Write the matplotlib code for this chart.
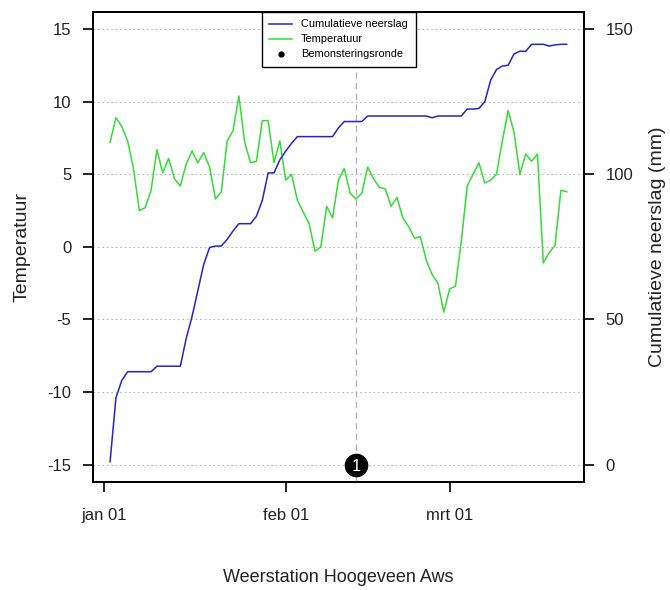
import numpy as np
import pandas as pd
import matplotlib
matplotlib.use("Agg")
import matplotlib.pyplot as plt
from matplotlib.lines import Line2D

plt.rcParams['font.family'] = ['Liberation Sans', 'DejaVu Sans']
plt.rcParams['axes.unicode_minus'] = False

# dagelijkse reeksen, 2 jan t/m 21 mrt
start_date = '2014-01-02'
temperatuur = [7.2, 8.9, 8.3, 7.3, 5.4, 2.5, 2.7, 3.9, 6.7, 5.1,
               6.1, 4.7, 4.2, 5.7, 6.6, 5.8, 6.5, 5.5, 3.3, 3.8,
               7.3, 8.0, 10.4, 7.2, 5.8, 5.9, 8.7, 8.7, 5.8, 7.3,
               4.6, 5.0, 3.2, 2.4, 1.6, -0.3, 0.0, 2.8, 2.0, 4.6,
               5.4, 3.7, 3.3, 3.7, 5.5, 4.7, 4.1, 4.0, 2.8, 3.4,
               2.0, 1.4, 0.6, 0.7, -0.9, -1.9, -2.5, -4.5, -2.9, -2.7,
               0.4, 4.2, 5.0, 5.8, 4.4, 4.6, 5.0, 7.3, 9.4, 7.9,
               5.0, 6.4, 5.9, 6.4, -1.1, -0.4, 0.1, 3.9, 3.8]
neerslag_cum = [1.0, 23.0, 29.0, 32.0, 32.0, 32.0, 32.0, 32.0, 33.9, 33.9,
                33.9, 33.9, 33.9, 43.4, 51.0, 60.0, 69.0, 74.8, 75.3, 75.3,
                77.6, 80.5, 83.0, 83.0, 83.0, 85.6, 91.0, 100.5, 100.5, 105.0,
                108.0, 110.7, 113.0, 113.0, 113.0, 113.0, 113.0, 113.0, 113.0, 116.0,
                118.2, 118.2, 118.2, 118.2, 120.1, 120.1, 120.1, 120.1, 120.1, 120.1,
                120.1, 120.1, 120.1, 120.1, 120.1, 119.5, 120.1, 120.1, 120.1, 120.1,
                120.1, 122.5, 122.5, 122.7, 125.0, 132.4, 136.1, 137.3, 137.6, 141.5,
                142.4, 142.4, 144.8, 144.8, 144.8, 144.2, 144.6, 144.8, 144.8]

tick_dates = ['2014-01-01', '2014-02-01', '2014-03-01']
tick_labels = ['jan 01', 'feb 01', 'mrt 01']
ronde_dates = ['2014-02-13']
ronde_labels = ['1']

temp_ticks = [-15, -10, -5, 0, 5, 10, 15]
neerslag_ticks = [0, 50, 100, 150]

dates = pd.date_range(start_date, periods=len(temperatuur))

fig = plt.figure(figsize=(6.7, 5.9), dpi=100)
ax = fig.add_axes([0.1385, 0.183, 0.7336, 0.797])
ax2 = ax.twinx()

blauw = '#2424c8'
groen = '#36dc36'
tekst = '#222222'

# temperatuur (links)
ax.plot(dates, temperatuur, color=groen, lw=1.1, zorder=3)
ax.set_ylim(-16.2, 16.2)
ax.set_yticks(temp_ticks)
ax.set_yticklabels([str(t) for t in temp_ticks])
ax.grid(axis='y', linestyle=(0, (1.5, 2.5)), color='#b8b8b8', lw=0.8)
ax.set_ylabel('Temperatuur', fontsize=14, color=tekst, labelpad=12)
ax.set_xlabel('Weerstation Hoogeveen Aws', fontsize=13, color=tekst, labelpad=33)

# cumulatieve neerslag (rechts)
ax2.plot(dates, neerslag_cum, color=blauw, lw=1.1, zorder=3)
ax2.set_ylim(-6, 156)
ax2.set_yticks(neerslag_ticks)
ax2.set_yticklabels([str(t) for t in neerslag_ticks])
ax2.set_ylabel('Cumulatieve neerslag (mm)', fontsize=14, color=tekst, labelpad=11)

x0 = pd.Timestamp('2014-01-01') - pd.Timedelta(days=1.95)
x1 = pd.Timestamp('2014-01-01') + pd.Timedelta(days=82.0)
ax.set_xlim(x0, x1)
ax.set_xticks(pd.to_datetime(tick_dates))
ax.set_xticklabels(tick_labels)

for a in (ax, ax2):
    a.tick_params(length=7.5, width=1.2, labelsize=12, labelcolor=tekst, pad=8)
    for s in a.spines.values():
        s.set_linewidth(1.3)
ax.tick_params(axis='x', pad=11)

# bemonsteringsronde
for d, lab in zip(pd.to_datetime(ronde_dates), ronde_labels):
    ax.axvline(d, color='#b0b0b0', lw=0.9, linestyle=(0, (5, 3.5)), zorder=1)
    ax2.plot([d], [0], 'o', color='black', markersize=16, zorder=5, clip_on=False)
    ax2.text(d, 0, lab, color='white', fontsize=12,
             ha='center', va='center_baseline', zorder=6)

handles = [Line2D([], [], color=blauw, lw=1.1),
           Line2D([], [], color=groen, lw=1.1),
           Line2D([], [], color='black', marker='o', markersize=3.5, lw=0)]
leg = ax2.legend(handles, ['Cumulatieve neerslag', 'Temperatuur', 'Bemonsteringsronde'],
                 loc='upper center', borderaxespad=0, fontsize=7.9, frameon=True,
                 fancybox=False, edgecolor='black', framealpha=1,
                 handlelength=2.1, handletextpad=0.8, labelspacing=0.45, borderpad=0.7)
leg.get_frame().set_linewidth(1.0)

fig.savefig('out.png', dpi=100)
